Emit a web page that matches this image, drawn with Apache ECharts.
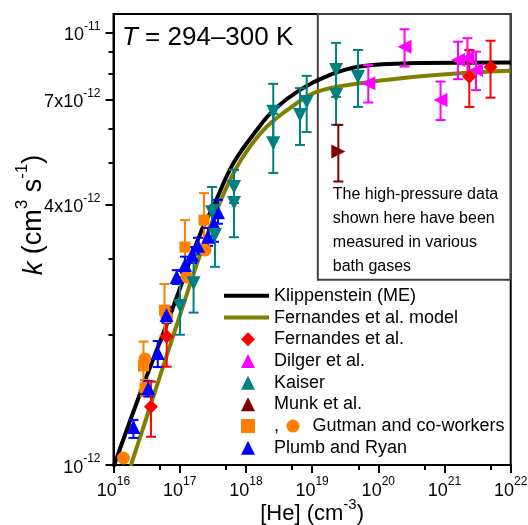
<!DOCTYPE html>
<html>
<head>
<meta charset="utf-8">
<script src="https://cdn.jsdelivr.net/npm/echarts@6/dist/echarts.min.js"></script>
<style>
  html, body { margin: 0; padding: 0; background: #fff; }
  #chart { width: 528px; height: 525px; }
</style>
</head>
<body>
<div id="chart"></div>
<script>
const FONT = '"Liberation Sans", Arial, sans-serif';

// axis ranges and ticks
const xMin = 1e16, xMax = 1e22;
const yMin = 1e-12, yMax = 1.102e-11;
const xMajorTicks = [1e16, 1e17, 1e18, 1e19, 1e20, 1e21, 1e22];
const xMinorTicks = [5e16, 5e17, 5e18, 5e19, 5e20, 5e21];
const xTickText = [['10', '16'], ['10', '17'], ['10', '18'], ['10', '19'], ['10', '20'], ['10', '21'], ['10', '22']];
const yMajorTicks = [1e-12, 4e-12, 7e-12, 1e-11];
const yMinorTicks = [2e-12, 3e-12, 5e-12, 6e-12, 8e-12, 9e-12];
const yTickText = [['10', '-12'], ['4x10', '-12'], ['7x10', '-12'], ['10', '-11']];

// model curves [He], k
const klippCurve = [
    [1.0e16, 0.99e-12], [2.51e16, 1.459e-12], [6.73e16, 2.163e-12], [2.15e17, 3.49e-12],
    [3.22e17, 3.96e-12], [6.46e17, 4.98e-12], [1.456e18, 5.94e-12], [2.60e18, 6.60e-12],
    [6.56e18, 7.36e-12], [1.86e19, 7.97e-12], [5.29e19, 8.33e-12], [3.01e20, 8.48e-12],
    [1e22, 8.51e-12]
];
const fernModelCurve = [
    [1.82e16, 0.995e-12], [4.24e16, 1.479e-12], [9.53e16, 2.163e-12], [2.03e17, 3.06e-12],
    [3.62e17, 3.88e-12], [6.46e17, 4.72e-12], [1.153e18, 5.44e-12], [2.06e18, 6.05e-12],
    [4.63e18, 6.68e-12], [1.174e19, 7.28e-12], [5.29e19, 7.62e-12], [3.01e20, 7.87e-12],
    [1.71e21, 8.04e-12], [1e22, 8.15e-12]
];

// measurements [He], k, k low, k high
const fernandesPts = [
    [3.68e16, 1.364e-12, 1.162e-12, 1.558e-12],
    [6.37e16, 1.982e-12, 1.687e-12, 2.28e-12],
    [2.37e21, 7.89e-12, 6.72e-12, 9.10e-12],
    [4.96e21, 8.31e-12, 7.06e-12, 9.56e-12]
];
const dilgerPts = [
    [7.06e19, 7.62e-12, 6.88e-12, 8.40e-12],
    [2.49e20, 9.26e-12, 8.33e-12, 1.016e-11],
    [8.71e20, 6.97e-12, 6.27e-12, 7.69e-12],
    [1.60e21, 8.63e-12, 7.79e-12, 9.51e-12],
    [2.22e21, 8.72e-12, 7.93e-12, 9.69e-12],
    [2.99e21, 8.18e-12, 7.35e-12, 9.02e-12]
];
const kaiserPts = [
    [1.01e17, 2.33e-12, 2.00e-12, 2.72e-12],
    [1.62e17, 2.63e-12, 2.25e-12, 3.06e-12],
    [3.08e17, 3.84e-12, 3.36e-12, 4.39e-12],
    [3.41e17, 3.40e-12, 2.87e-12, 3.99e-12],
    [6.61e17, 4.39e-12, 4.03e-12, 4.81e-12],
    [6.61e17, 4.03e-12, 3.36e-12, 4.81e-12],
    [2.59e18, 6.55e-12, 5.67e-12, 7.60e-12],
    [2.59e18, 5.54e-12, 4.73e-12, 6.48e-12],
    [6.56e18, 6.44e-12, 5.49e-12, 7.43e-12],
    [8.28e18, 6.90e-12, 5.88e-12, 7.93e-12],
    [2.30e19, 8.18e-12, 7.09e-12, 9.45e-12],
    [2.30e19, 7.16e-12, 6.11e-12, 8.40e-12],
    [4.93e19, 7.88e-12, 6.72e-12, 9.10e-12]
];
const munkPts = [
    [2.49e19, 5.30e-12, 4.52e-12, 6.11e-12]
];
const gutmanSquarePts = [
    [2.99e16, 1.507e-12, 1.443e-12, 1.572e-12],
    [2.84e16, 1.694e-12, 1.490e-12, 1.928e-12],
    [5.89e16, 2.28e-12, 1.987e-12, 2.62e-12],
    [1.20e17, 3.19e-12, 2.78e-12, 3.68e-12],
    [2.33e17, 3.68e-12, 3.19e-12, 4.25e-12]
];
const gutmanCirclePts = [
    [1.416e16, 1.038e-12], [2.99e16, 1.758e-12], [6.37e16, 2.20e-12],
    [1.276e17, 2.72e-12], [2.41e17, 3.14e-12]
];
const plumbPts = [
    [2.00e16, 1.224e-12, 1.155e-12, 1.271e-12],
    [3.36e16, 1.504e-12, 1.439e-12, 1.563e-12],
    [4.66e16, 1.815e-12, 1.684e-12, 1.934e-12],
    [6.32e16, 2.22e-12, 2.13e-12, 2.32e-12],
    [9.01e16, 2.72e-12, 2.62e-12, 2.82e-12],
    [1.20e17, 2.90e-12, 2.78e-12, 3.03e-12],
    [1.534e17, 3.06e-12, 2.93e-12, 3.19e-12],
    [1.89e17, 3.21e-12, 3.07e-12, 3.35e-12],
    [2.68e17, 3.37e-12, 3.21e-12, 3.53e-12],
    [3.30e17, 3.61e-12, 3.28e-12, 3.97e-12],
    [3.79e17, 3.84e-12, 3.61e-12, 4.10e-12]
];

// inset box corner (data units) and its note
const insetCorner = [1.22e19, 2.68e-12];
const insetNote = ['The high-pressure data', 'shown here have been', 'measured in various', 'bath gases'];

function nearestIdx(list, v) {
    let best = 0;
    list.forEach((t, i) => {
        if (Math.abs(Math.log10(t) - Math.log10(v)) < Math.abs(Math.log10(list[best]) - Math.log10(v))) best = i;
    });
    return best;
}

const supRich = {
    b: { fontSize: 18, lineHeight: 24, verticalAlign: 'bottom', fontFamily: FONT, color: '#000' },
    s: { fontSize: 12, lineHeight: 12, verticalAlign: 'top', fontFamily: FONT, color: '#000' }
};

function errorBars(name, pts, color) {
    return {
        name: name,
        type: 'custom',
        z: 2,
        silent: true,
        data: pts.map(p => [p[0], p[2], p[3]]),
        encode: { x: 0, y: [1, 2] },
        renderItem: function (params, api) {
            const x = api.value(0);
            const hi = api.coord([x, api.value(2)]);
            const lo = api.coord([x, api.value(1)]);
            const c = 5;
            const style = { stroke: color, lineWidth: 2 };
            return {
                type: 'group',
                children: [
                    { type: 'line', shape: { x1: hi[0], y1: hi[1], x2: lo[0], y2: lo[1] }, style: style },
                    { type: 'line', shape: { x1: hi[0] - c, y1: hi[1], x2: hi[0] + c, y2: hi[1] }, style: style },
                    { type: 'line', shape: { x1: lo[0] - c, y1: lo[1], x2: lo[0] + c, y2: lo[1] }, style: style }
                ]
            };
        }
    };
}

function points(name, pts, color, symbol, size, rotate) {
    return {
        name: name,
        type: 'scatter',
        z: 3,
        data: pts.map(p => [p[0], p[1]]),
        symbol: symbol,
        symbolSize: size,
        symbolRotate: rotate || 0,
        itemStyle: { color: color, opacity: 1 }
    };
}

const legendText = {
    fontSize: 18, lineHeight: 21.7, fontFamily: FONT, color: '#000', fontWeight: 'normal'
};

const chart = echarts.init(document.getElementById('chart'), null, { renderer: 'canvas' });

const option = {
    animation: false,
    backgroundColor: '#fff',
    title: {
        text: '{i|T}{n| = 294\u2013300 K}',
        left: 117, top: 20,
        textStyle: {
            fontWeight: 'normal',
            rich: {
                i: { fontSize: 26, fontStyle: 'italic', fontWeight: 'normal', fontFamily: FONT, color: '#000' },
                n: { fontSize: 26, fontWeight: 'normal', fontFamily: FONT, color: '#000' }
            }
        }
    },
    grid: {
        left: 113.5, right: 17.3, top: 14, bottom: 60,
        containLabel: false, outerBoundsMode: 'none',
        show: true, borderColor: '#000', borderWidth: 2, backgroundColor: 'transparent'
    },
    legend: [{
        orient: 'vertical', left: 224, top: 285, padding: 0, itemGap: 0,
        itemWidth: 45, itemHeight: 4, selectedMode: false,
        data: [
            { name: 'Klippenstein (ME)', icon: 'rect' },
            { name: 'Fernandes et al. model', icon: 'rect' }
        ],
        textStyle: legendText
    }, {
        orient: 'vertical', left: 241, top: 328.4, padding: 0, itemGap: 0,
        itemWidth: 14, itemHeight: 14, selectedMode: false, symbolKeepAspect: true,
        data: [
            { name: 'Fernandes et al.', icon: 'diamond' },
            { name: 'Dilger et al.', icon: 'triangle', symbolRotate: 90 },
            { name: 'Kaiser', icon: 'triangle', symbolRotate: 180 },
            { name: 'Munk et al.', icon: 'triangle', symbolRotate: -90 },
            { name: 'Gutman and co-workers', icon: 'rect' },
            { name: 'Plumb and Ryan', icon: 'triangle' }
        ],
        formatter: function (name) {
            if (name === 'Gutman and co-workers') return '{c|,}{dot|}{g|Gutman and co-workers}';
            return name;
        },
        textStyle: Object.assign({}, legendText, {
            padding: [0, 0, 0, 14],
            rich: {
                c: { fontSize: 18, lineHeight: 21.7, width: 12.5, fontFamily: FONT, color: '#000' },
                dot: { width: 13, height: 13, borderRadius: 6.5, backgroundColor: '#ff8000' },
                g: { fontSize: 18, lineHeight: 21.7, padding: [0, 0, 0, 13], fontFamily: FONT, color: '#000' }
            }
        })
    }],
    xAxis: [{
        type: 'log', logBase: 10, min: xMin, max: xMax,
        name: '{n|[He] (cm}{s|-3}{n|)}', nameLocation: 'middle', nameGap: 32, nameMoveOverlap: false,
        nameTextStyle: {
            rich: {
                n: { fontSize: 22, lineHeight: 28, verticalAlign: 'bottom', fontFamily: FONT, color: '#000' },
                s: { fontSize: 15, lineHeight: 15, verticalAlign: 'top', fontFamily: FONT, color: '#000' }
            }
        },
        axisLine: { show: true, onZero: false, lineStyle: { color: '#000', width: 2 } },
        splitLine: { show: false },
        axisTick: { show: true, inside: false, length: 8, lineStyle: { color: '#000', width: 2 }, customValues: xMajorTicks },
        axisLabel: {
            margin: 11, customValues: xMajorTicks, hideOverlap: false,
            alignMinLabel: 'center', alignMaxLabel: 'center',
            formatter: function (v) {
                const t = xTickText[nearestIdx(xMajorTicks, v)];
                return '{b|' + t[0] + '}{s|' + t[1] + '}';
            },
            rich: supRich
        }
    }, {
        type: 'log', logBase: 10, min: xMin, max: xMax, position: 'bottom',
        axisLine: { show: false }, splitLine: { show: false }, axisLabel: { show: false },
        axisTick: { show: true, inside: false, length: 5, lineStyle: { color: '#000', width: 2 }, customValues: xMinorTicks }
    }],
    yAxis: [{
        type: 'log', logBase: 10, min: yMin, max: yMax,
        name: '{i|k}{n| (cm}{s|3}{n| s}{s|-1}{n|)}', nameLocation: 'middle', nameGap: 66, nameMoveOverlap: false,
        nameTextStyle: {
            padding: [0, 0, 0, 49],
            rich: {
                i: { fontSize: 27, fontStyle: 'italic', lineHeight: 34, verticalAlign: 'bottom', fontFamily: FONT, color: '#000' },
                n: { fontSize: 27, lineHeight: 34, verticalAlign: 'bottom', fontFamily: FONT, color: '#000' },
                s: { fontSize: 17, lineHeight: 17, verticalAlign: 'top', fontFamily: FONT, color: '#000' }
            }
        },
        axisLine: { show: true, onZero: false, lineStyle: { color: '#000', width: 2 } },
        splitLine: { show: false },
        axisTick: { show: true, inside: false, length: 8, lineStyle: { color: '#000', width: 2 }, customValues: yMajorTicks },
        axisLabel: {
            margin: 13, customValues: yMajorTicks, hideOverlap: false,
            verticalAlignMinLabel: 'middle', verticalAlignMaxLabel: 'middle',
            formatter: function (v) {
                const t = yTickText[nearestIdx(yMajorTicks, v)];
                return '{b|' + t[0] + '}{s|' + t[1] + '}';
            },
            rich: supRich
        }
    }, {
        type: 'log', logBase: 10, min: yMin, max: yMax, position: 'left',
        axisLine: { show: false }, splitLine: { show: false }, axisLabel: { show: false },
        axisTick: { show: true, inside: false, length: 5, lineStyle: { color: '#000', width: 2 }, customValues: yMinorTicks }
    }],
    series: [
        {
            name: 'Klippenstein (ME)', type: 'line', z: 1, smooth: 0.4, symbol: 'none',
            data: klippCurve, lineStyle: { color: '#000', width: 4 }, itemStyle: { color: '#000' },
            markArea: {
                silent: true,
                itemStyle: { color: 'rgba(0,0,0,0)', borderColor: '#404040', borderWidth: 2 },
                label: {
                    show: true, position: 'insideBottomLeft', distance: 2, padding: [0, 0, 0, 14],
                    fontSize: 16, lineHeight: 24, fontFamily: FONT, color: '#000',
                    formatter: insetNote.join('\n')
                },
                data: [[{ coord: insetCorner }, { coord: [xMax, yMax] }]]
            }
        },
        {
            name: 'Fernandes et al. model', type: 'line', z: 1, smooth: 0.4, symbol: 'none',
            data: fernModelCurve, lineStyle: { color: '#808000', width: 4 }, itemStyle: { color: '#808000' }
        },
        errorBars('err-gutman', gutmanSquarePts, '#ff8000'),
        errorBars('err-plumb', plumbPts, '#0000ff'),
        errorBars('err-kaiser', kaiserPts, '#008080'),
        errorBars('err-fernandes', fernandesPts, '#ff0000'),
        errorBars('err-dilger', dilgerPts, '#ff00ff'),
        errorBars('err-munk', munkPts, '#800000'),
        points('Gutman and co-workers', gutmanSquarePts, '#ff8000', 'rect', 11),
        points('Gutman circles', gutmanCirclePts, '#ff8000', 'circle', 13),
        points('Plumb and Ryan', plumbPts, '#0000ff', 'triangle', 14),
        points('Kaiser', kaiserPts, '#008080', 'triangle', 14, 180),
        points('Fernandes et al.', fernandesPts, '#ff0000', 'diamond', 14),
        points('Dilger et al.', dilgerPts, '#ff00ff', 'triangle', 14, 90),
        points('Munk et al.', munkPts, '#800000', 'triangle', 14, -90)
    ]
};

chart.setOption(option);
</script>
</body>
</html>
